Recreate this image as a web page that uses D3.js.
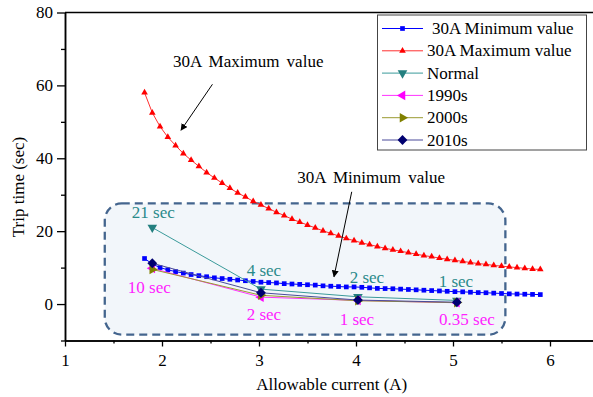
<!DOCTYPE html>
<html><head><meta charset="utf-8">
<script src="https://cdn.jsdelivr.net/npm/d3@7"></script>
<style>
body{margin:0;background:#fff}
svg{display:block}
</style>
</head><body><svg id="c" width="593" height="397"></svg>
<script>
// ---- data ----
const curveX = [1.82,1.90,1.98,2.06,2.14,2.22,2.30,2.38,2.46,2.54,2.62,2.70,2.78,2.86,2.94,3.02,3.10,3.18,3.26,3.34,3.42,3.50,3.58,3.66,3.74,3.82,3.90,3.98,4.06,4.14,4.22,4.30,4.38,4.46,4.54,4.62,4.70,4.78,4.86,4.94,5.02,5.10,5.18,5.26,5.34,5.42,5.50,5.58,5.66,5.74,5.82,5.90];
const minValue = [12.5,11.0,10.0,9.4,8.9,8.5,8.1,7.8,7.5,7.2,7.0,6.8,6.6,6.4,6.2,6.0,5.9,5.8,5.6,5.5,5.4,5.3,5.2,5.0,4.9,4.8,4.7,4.7,4.6,4.45,4.3,4.25,4.2,4.1,4.0,3.9,3.8,3.7,3.6,3.5,3.4,3.35,3.25,3.15,3.1,3.0,2.9,2.8,2.75,2.7,2.65,2.6];
const maxValue = [58.0,52.5,48.7,45.8,43.5,41.3,39.5,37.8,36.1,34.6,33.2,31.8,30.5,29.4,28.2,27.2,26.2,25.2,24.3,23.3,22.5,21.7,20.9,20.1,19.4,18.7,18.0,17.4,16.8,16.3,15.8,15.3,14.9,14.5,14.1,13.7,13.3,13.0,12.6,12.3,12.0,11.7,11.4,11.1,10.9,10.6,10.4,10.2,10.0,9.8,9.6,9.5];
const measX = [1.9, 3.02, 4.02, 5.04];
const normal = [21, 4.1, 2.0, 1.0];
const s1990 = [9.8, 1.9, 1.0, 0.35];
const s2000 = [9.5, 2.4, 0.9, 0.4];
const s2010 = [11.2, 3.1, 1.1, 0.5];
const xTicks = [1,2,3,4,5,6];
const xMinor = [1.5,2.5,3.5,4.5,5.5,6.5];
const yTicks = [0,20,40,60,80];
const yMinor = [-10,10,30,50,70];
const legendNames = ["30A Minimum value","30A Maximum value","Normal","1990s","2000s","2010s"];
const normalLabels = ["21 sec","4 sec","2 sec","1 sec"];
const s1990Labels = ["10 sec","2 sec","1 sec","0.35 sec"];

// ---- setup ----
const svg = d3.select("#c");
const x = d3.scaleLinear().domain([1, 6.5]).range([65, 598.5]);
const y = d3.scaleLinear().domain([-10, 80]).range([340.5, 12.5]);
const FS = 17;
const T = sel => sel.attr("font-size", FS).attr("font-family", "Liberation Serif").style("font-family", `"Liberation Serif"`);

// highlight box (annotation, data units)
const box = {x0: 1.41, x1: 5.54, y0: -8.4, y1: 27.6};
svg.append("rect")
  .attr("x", x(box.x0)).attr("y", y(box.y1))
  .attr("width", x(box.x1) - x(box.x0)).attr("height", y(box.y0) - y(box.y1))
  .attr("rx", 17).attr("ry", 17)
  .attr("fill", "#f2f6fa").attr("stroke", "#44658e")
  .attr("stroke-width", 2.3).attr("stroke-dasharray", "8,5");

// axes
const gx = svg.append("g").attr("transform", `translate(0,${y(-10)})`)
  .call(d3.axisBottom(x).tickValues(xTicks).tickSize(6).tickPadding(7).tickSizeOuter(0).tickFormat(d3.format("d")));
const gxm = svg.append("g").attr("transform", `translate(0,${y(-10)})`)
  .call(d3.axisBottom(x).tickValues(xMinor).tickSize(3).tickSizeOuter(0).tickFormat(""));
const gy = svg.append("g").attr("transform", `translate(${x(1)},0)`)
  .call(d3.axisLeft(y).tickValues(yTicks).tickSize(8).tickPadding(4).tickSizeOuter(0));
const gym = svg.append("g").attr("transform", `translate(${x(1)},0)`)
  .call(d3.axisLeft(y).tickValues(yMinor).tickSize(4).tickSizeOuter(0).tickFormat(""));
[gx,gxm,gy,gym].forEach(g => {
  g.attr("font-family", null).attr("font-size", null);
  g.selectAll(".domain").attr("stroke","#000").attr("stroke-width",1.5);
  g.selectAll(".tick line").attr("stroke","#000").attr("stroke-width",1.3);
  g.selectAll("text").call(T).attr("fill","#000");
});
// top frame line
svg.append("line").attr("x1", x(1)).attr("x2", x(6.5)).attr("y1", y(80)).attr("y2", y(80))
  .attr("stroke","#000").attr("stroke-width",1.5);

svg.append("text").attr("x", x(3.75)).attr("y", 390).attr("text-anchor","middle")
  .call(T).text("Allowable current (A)");
svg.append("text").attr("transform", "translate(24,187) rotate(-90)").attr("text-anchor","middle")
  .call(T).text("Trip time (sec)");

// series definitions
const series = [
  {name: legendNames[0], xs: curveX, ys: minValue, color:"#0000ff", line:"#0000ff", type:d3.symbolSquare, size:22, rot:0},
  {name: legendNames[1], xs: curveX, ys: maxValue, color:"#ff0000", line:"#ff3030", type:d3.symbolTriangle, size:19, rot:0},
  {name: legendNames[2], xs: measX, ys: normal, color:"#237f7f", line:"#3a9a9a", type:d3.symbolTriangle, size:40, rot:180},
  {name: legendNames[3], xs: measX, ys: s1990, color:"#ff00ff", line:"#ff33ff", type:d3.symbolTriangle, size:40, rot:-90},
  {name: legendNames[4], xs: measX, ys: s2000, color:"#808000", line:"#9a9a30", type:d3.symbolTriangle, size:40, rot:90},
  {name: legendNames[5], xs: measX, ys: s2010, color:"#000070", line:"#4a4a9a", type:d3.symbolSquare, size:48, rot:45}
];
const lineGen = d3.line().x(d => x(d[0])).y(d => y(d[1]));
series.forEach(s => {
  const pts = s.xs.map((v,i) => [v, s.ys[i]]);
  svg.append("path").datum(pts).attr("d", lineGen).attr("fill","none")
    .attr("stroke", s.line).attr("stroke-width", 1);
  svg.append("g").selectAll("path").data(pts).join("path")
    .attr("d", d3.symbol().type(s.type).size(s.size))
    .attr("transform", d => `translate(${x(d[0])},${y(d[1])}) rotate(${s.rot})`)
    .attr("fill", s.color);
});

// data labels (pixel offsets from their points)
const normalOffsets = [[1,-9.5],[3,-13.6],[9,-13.8],[-1,-13.4]];
const s1990Offsets = [[-3,24.7],[3,23],[-1,24.6],[10,22.2]];
normalLabels.forEach((t,i) => {
  svg.append("text").attr("x", x(measX[i]) + normalOffsets[i][0]).attr("y", y(normal[i]) + normalOffsets[i][1])
    .attr("text-anchor","middle").call(T).attr("fill","#2a8a8a").text(t);
});
s1990Labels.forEach((t,i) => {
  svg.append("text").attr("x", x(measX[i]) + s1990Offsets[i][0]).attr("y", y(s1990[i]) + s1990Offsets[i][1])
    .attr("text-anchor","middle").call(T).attr("fill","#ff22ff").text(t);
});

// arrows
svg.append("defs").append("marker").attr("id","ah").attr("viewBox","0 0 10 10")
  .attr("refX",9).attr("refY",5).attr("markerWidth",7).attr("markerHeight",7).attr("orient","auto")
  .append("path").attr("d","M0,0 L10,5 L0,10 z").attr("fill","#000");
const notes = [
  {text:"30A Maximum value", tx:2.113, ty:65.0, from:[2.52,60.3], to:[2.196,47.7]},
  {text:"30A Minimum value", tx:3.395, ty:33.3, from:[3.956,30.8], to:[3.773,7.5]}
];
notes.forEach(n => {
  svg.append("text").attr("x", x(n.tx)).attr("y", y(n.ty)).call(T).attr("fill","#000")
    .attr("word-spacing", 3).text(n.text);
  svg.append("line").attr("x1", x(n.from[0])).attr("y1", y(n.from[1]))
    .attr("x2", x(n.to[0])).attr("y2", y(n.to[1]))
    .attr("stroke","#000").attr("stroke-width",1).attr("marker-end","url(#ah)");
});

// legend
const lg = svg.append("g");
lg.append("rect").attr("x",377.5).attr("y",15).attr("width",209).attr("height",135)
  .attr("fill","#fff").attr("stroke","#444").attr("stroke-width",1);
series.forEach((s,i) => {
  const cy = 28.5 + i*22.3;
  lg.append("line").attr("x1",382).attr("x2",423).attr("y1",cy).attr("y2",cy)
    .attr("stroke", s.line).attr("stroke-width",1);
  lg.append("path").attr("d", d3.symbol().type(s.type).size(s.size))
    .attr("transform", `translate(402.5,${cy}) rotate(${s.rot})`).attr("fill", s.color);
  lg.append("text").attr("x", i === 0 ? 432 : 427).attr("y",cy+5.5).call(T).text(s.name);
});
</script></body></html>
